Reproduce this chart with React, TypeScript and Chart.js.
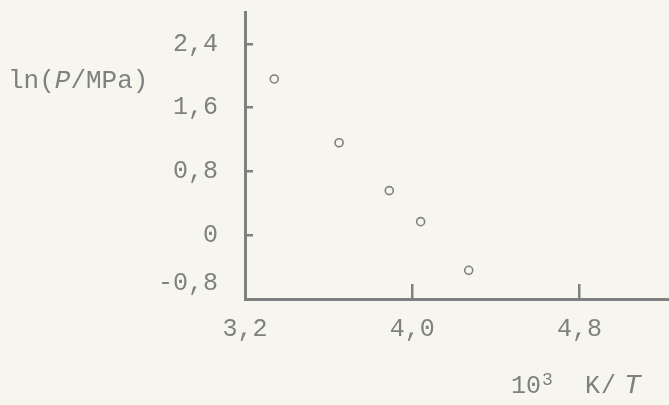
import React, { useEffect, useRef } from "react";
import { Chart, registerables } from "chart.js";

Chart.register(...registerables);

// Data (10^3 K/T vs ln(P/MPa))
const xValues = [3.34, 3.65, 3.89, 4.04, 4.27];
const yValues = [1.96, 1.16, 0.56, 0.17, -0.44];

const xTicks = [3.2, 4.0, 4.8];
const xTickLabels = ["3,2", "4,0", "4,8"];
const yTicks = [-0.8, 0, 0.8, 1.6, 2.4];
const yTickLabels = ["-0,8", "0", "0,8", "1,6", "2,4"];

const xMin = 3.2;
const xMax = 5.228;
const yMin = -0.8;
const yMax = 2.8;

const PAPER = "#f6f5ee";
const INK = "#808080";
const FONT = "'Liberation Mono', 'DejaVu Sans Mono', monospace";

const paperAndTitles = {
  id: "paperAndTitles",
  beforeDraw(chart: any) {
    const { ctx, width, height } = chart;
    ctx.save();
    ctx.fillStyle = PAPER;
    ctx.fillRect(0, 0, width, height);
    ctx.restore();
  },
  afterDraw(chart: any) {
    const ctx = chart.ctx as CanvasRenderingContext2D;
    ctx.save();
    ctx.fillStyle = INK;
    ctx.textAlign = "left";
    ctx.textBaseline = "alphabetic";
    const run = (pieces: [string, string][], x0: number, y: number) => {
      let x = x0;
      for (const [text, font] of pieces) {
        ctx.font = font;
        ctx.fillText(text, x, y);
        x += ctx.measureText(text).width;
      }
    };
    // y-axis title: ln(P/MPa)
    run(
      [
        ["ln(", `26px ${FONT}`],
        ["P", `italic 26px ${FONT}`],
        ["/MPa)", `26px ${FONT}`],
      ],
      8,
      88
    );
    // x-axis title: 10^3 K/T
    ctx.font = `25px ${FONT}`;
    ctx.fillText("10", 511, 393);
    ctx.font = `18px ${FONT}`;
    ctx.fillText("3", 542, 385);
    ctx.font = `25px ${FONT}`;
    ctx.fillText("K", 585, 393);
    ctx.fillText("/", 601, 393);
    ctx.font = `italic 28px ${FONT}`;
    ctx.fillText("T", 624, 393);
    ctx.restore();
  },
};

const zeroPadding = (scale: any) => {
  scale.paddingTop = 0;
  scale.paddingBottom = 0;
  scale.paddingLeft = 0;
  scale.paddingRight = 0;
};

export default function App() {
  const canvasRef = useRef<HTMLCanvasElement | null>(null);

  useEffect(() => {
    if (!canvasRef.current) return;
    const chart = new Chart(canvasRef.current, {
      type: "scatter",
      data: {
        datasets: [
          {
            data: xValues.map((x, i) => ({ x, y: yValues[i] })),
            pointStyle: "circle",
            pointRadius: 4,
            pointHoverRadius: 4,
            pointBorderWidth: 1.6,
            pointBorderColor: INK,
            pointBackgroundColor: "rgba(0,0,0,0)",
            showLine: false,
          },
        ],
      },
      options: {
        animation: false,
        responsive: false,
        maintainAspectRatio: false,
        layout: {
          autoPadding: false,
          padding: { top: 12, left: 0, right: 0, bottom: 0 },
        },
        plugins: {
          legend: { display: false },
          tooltip: { enabled: false },
        },
        scales: {
          x: {
            type: "linear",
            position: "bottom",
            min: xMin,
            max: xMax,
            afterBuildTicks: (scale: any) => {
              scale.ticks = xTicks.map((v) => ({ value: v }));
            },
            afterFit: (scale: any) => {
              scale.height = 106;
              zeroPadding(scale);
            },
            border: { display: true, color: INK, width: 3 },
            grid: {
              display: true,
              drawOnChartArea: false,
              drawTicks: true,
              tickLength: -15,
              color: INK,
              lineWidth: 2.5,
            },
            ticks: {
              padding: 30,
              color: INK,
              font: { family: FONT, size: 25 },
              maxRotation: 0,
              autoSkip: false,
              callback: (_v: any, i: number) => xTickLabels[i],
            },
          },
          y: {
            type: "linear",
            position: "left",
            min: yMin,
            max: yMax,
            afterBuildTicks: (scale: any) => {
              scale.ticks = yTicks.map((v) => ({ value: v }));
            },
            afterFit: (scale: any) => {
              scale.width = 245;
              zeroPadding(scale);
            },
            border: { display: true, color: INK, width: 3 },
            grid: {
              display: true,
              drawOnChartArea: false,
              drawTicks: true,
              tickLength: -8,
              color: INK,
              lineWidth: 2.5,
            },
            ticks: {
              padding: 35,
              color: INK,
              autoSkip: false,
              font: (ctx: any) =>
                ctx.index === 0
                  ? { family: FONT, size: 25, lineHeight: 1.28 }
                  : { family: FONT, size: 25 },
              // lowest label sits above the x-axis, as in the reference
              callback: (_v: any, i: number) =>
                i === 0 ? [yTickLabels[i], ""] : yTickLabels[i],
            },
          },
        },
      },
      plugins: [paperAndTitles],
    });
    return () => chart.destroy();
  }, []);

  return (
    <div
      style={{
        position: "fixed",
        left: 0,
        top: 0,
        width: 669,
        height: 405,
        background: PAPER,
      }}
    >
      <canvas
        ref={canvasRef}
        width={669}
        height={405}
        style={{ display: "block", width: 669, height: 405 }}
      />
    </div>
  );
}
